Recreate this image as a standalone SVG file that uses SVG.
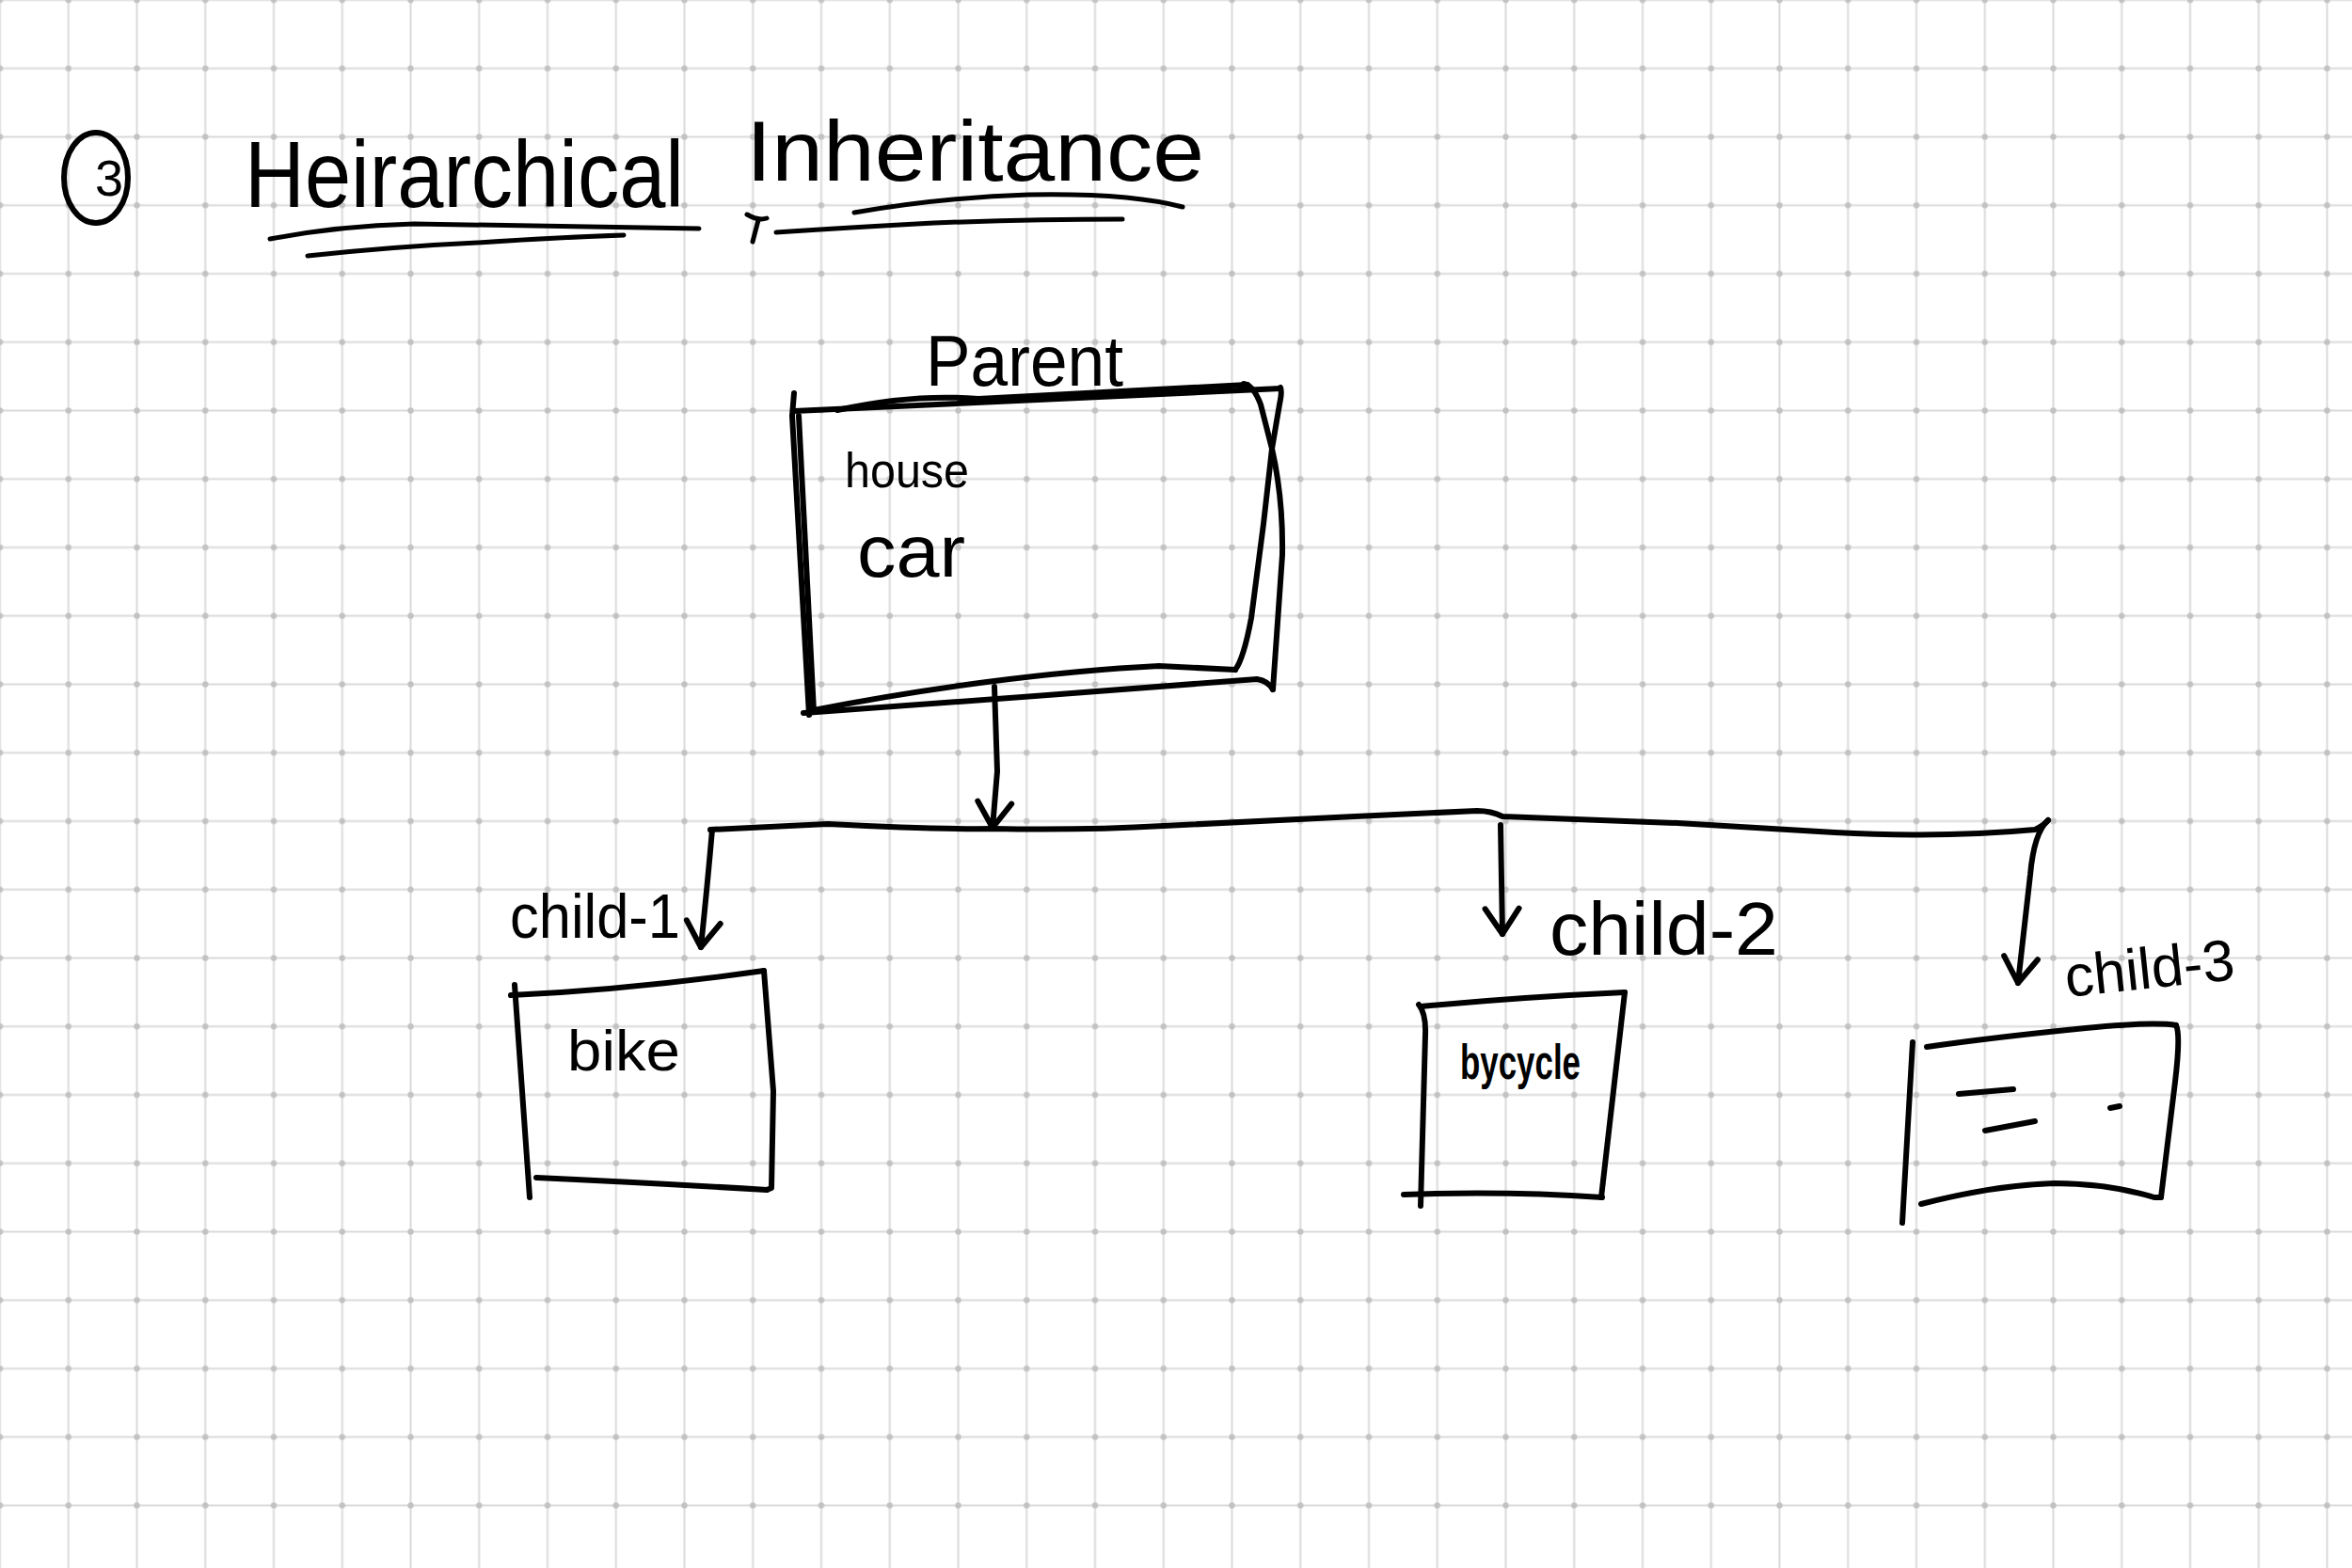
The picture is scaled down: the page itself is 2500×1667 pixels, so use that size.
<svg xmlns="http://www.w3.org/2000/svg" width="2500" height="1667" viewBox="0 0 2500 1667">
<defs>
<pattern id="grid" patternUnits="userSpaceOnUse" x="-36.375" y="-36.375" width="72.75" height="72.75">
<path d="M36.375 0 V72.75 M0 36.375 H72.75" stroke="#dadada" stroke-width="2" fill="none"/>
<circle cx="36.375" cy="36.375" r="3.2" fill="#c2c2c2"/>
</pattern>
<marker id="arr" markerUnits="userSpaceOnUse" viewBox="-40 -25 48 50" refX="0" refY="0" markerWidth="48" markerHeight="50" orient="auto">
<path d="M-27 -18 L0 0 L-27 18" fill="none" stroke="#000" stroke-width="6" stroke-linecap="round" stroke-linejoin="round"/>
</marker>
<style>
.s{fill:none;stroke:#000;stroke-width:6;stroke-linecap:round;stroke-linejoin:round}
.u{fill:none;stroke:#000;stroke-width:5;stroke-linecap:round;stroke-linejoin:round}
.t{font-family:"Liberation Sans","DejaVu Sans",sans-serif;fill:#000}
</style>
</defs>
<rect width="2500" height="1667" fill="#fff"/>
<rect width="2500" height="1667" fill="url(#grid)"/>

<g id="title">
<ellipse cx="102" cy="189" rx="34" ry="48" class="s"/>
<text class="t" x="116" y="208" font-size="54" text-anchor="middle">3</text>
<text class="t" x="260" y="220" font-size="100" textLength="467" lengthAdjust="spacingAndGlyphs">Heirarchical</text>
<text class="t" x="793" y="192" font-size="90" textLength="487" lengthAdjust="spacingAndGlyphs">Inheritance</text>
<path class="u" d="M287 254 Q360 240 440 238 Q600 240 743 243"/>
<path class="u" d="M327 272 Q420 262 507 258 Q600 252 663 250"/>
<path class="u" d="M908 226 Q1000 210 1093 207 Q1200 205 1257 220"/>
<path class="u" d="M825 247 Q900 242 993 237 Q1100 233 1193 233"/>
<path class="u" d="M794 228 Q806 235 815 232 M806 234 L800 257"/>
</g>

<g id="parent">
<text class="t" x="984" y="410" font-size="76" textLength="210" lengthAdjust="spacingAndGlyphs">Parent</text>
<path class="s" d="M844 437 Q1100 425 1361 413"/>
<path class="s" d="M890 436 C940 425 990 420 1040 424 L1326 409"/>
<path class="s" d="M844 418 L842 442 L860 760"/>
<path class="s" d="M849 442 L865 757"/>
<path class="s" d="M1322 408 Q1332 409 1340 430 L1352 477 Q1364 530 1363 590 L1353 733"/>
<path class="s" d="M1361 412 Q1363 416 1360 430 L1352 477 L1343 557 L1330 657 Q1322 700 1313 712"/>
<path class="s" d="M854 758 L1100 740 L1336 722 Q1348 724 1353 733"/>
<path class="s" d="M865 755 Q950 738 1049 725 Q1150 712 1232 708 L1313 712"/>
<text class="t" x="898" y="518" font-size="52" textLength="132" lengthAdjust="spacingAndGlyphs">house</text>
<text class="t" x="911" y="613" font-size="78" textLength="115" lengthAdjust="spacingAndGlyphs">car</text>
</g>

<g id="child1">
<text class="t" x="542" y="997" font-size="66" textLength="181" lengthAdjust="spacingAndGlyphs">child-1</text>
<path class="s" d="M543 1058 Q670 1052 812 1032"/>
<path class="s" d="M547 1047 L563 1273"/>
<path class="s" d="M812 1032 L822 1160 L820 1263 L815 1265"/>
<path class="s" d="M570 1252 Q700 1258 815 1265"/>
<text class="t" x="603" y="1138" font-size="62" textLength="120" lengthAdjust="spacingAndGlyphs">bike</text>
</g>

<g id="child2">
<text class="t" x="1647" y="1015" font-size="80" textLength="243" lengthAdjust="spacingAndGlyphs">child-2</text>
<path class="s" d="M1510 1070 Q1617 1060 1727 1055"/>
<path class="s" d="M1508 1068 Q1516 1078 1515 1100 L1510 1282"/>
<path class="s" d="M1727 1055 L1702 1273"/>
<path class="s" d="M1492 1270 Q1600 1266 1703 1273"/>
<text class="t" x="1552" y="1147" font-size="52" font-weight="bold" textLength="128" lengthAdjust="spacingAndGlyphs">bycycle</text>
</g>

<g id="child3">
<text class="t" x="2197" y="1060" font-size="62" textLength="181" lengthAdjust="spacingAndGlyphs" transform="rotate(-6 2197 1060)">child-3</text>
<path class="s" d="M2048 1113 Q2117 1103 2217 1093 Q2290 1086 2313 1090"/>
<path class="s" d="M2033 1108 L2022 1300"/>
<path class="s" d="M2313 1090 Q2318 1100 2312 1150 L2297 1273"/>
<path class="s" d="M2042 1280 Q2120 1260 2183 1258 Q2240 1258 2290 1273 L2297 1273"/>
<path class="s" d="M2082 1163 L2140 1158 M2110 1202 L2163 1192 M2243 1178 L2253 1176"/>
</g>

<g id="connectors">
<path class="s" d="M1057 730 L1060 820 L1055 880" marker-end="url(#arr)"/>
<path class="s" d="M755 882 L880 876 Q1000 882 1055 881 Q1150 883 1237 878 L1440 868 L1570 862 Q1585 862 1597 868 L1783 875 L1950 885 Q2067 891 2163 882 Q2172 878 2177 872"/>
<path class="s" d="M757 882 Q752 940 745 1007" marker-end="url(#arr)"/>
<path class="s" d="M1595 877 L1597 993" marker-end="url(#arr)"/>
<path class="s" d="M2177 872 Q2162 885 2158 930 L2145 1045" marker-end="url(#arr)"/>
</g>
</svg>
